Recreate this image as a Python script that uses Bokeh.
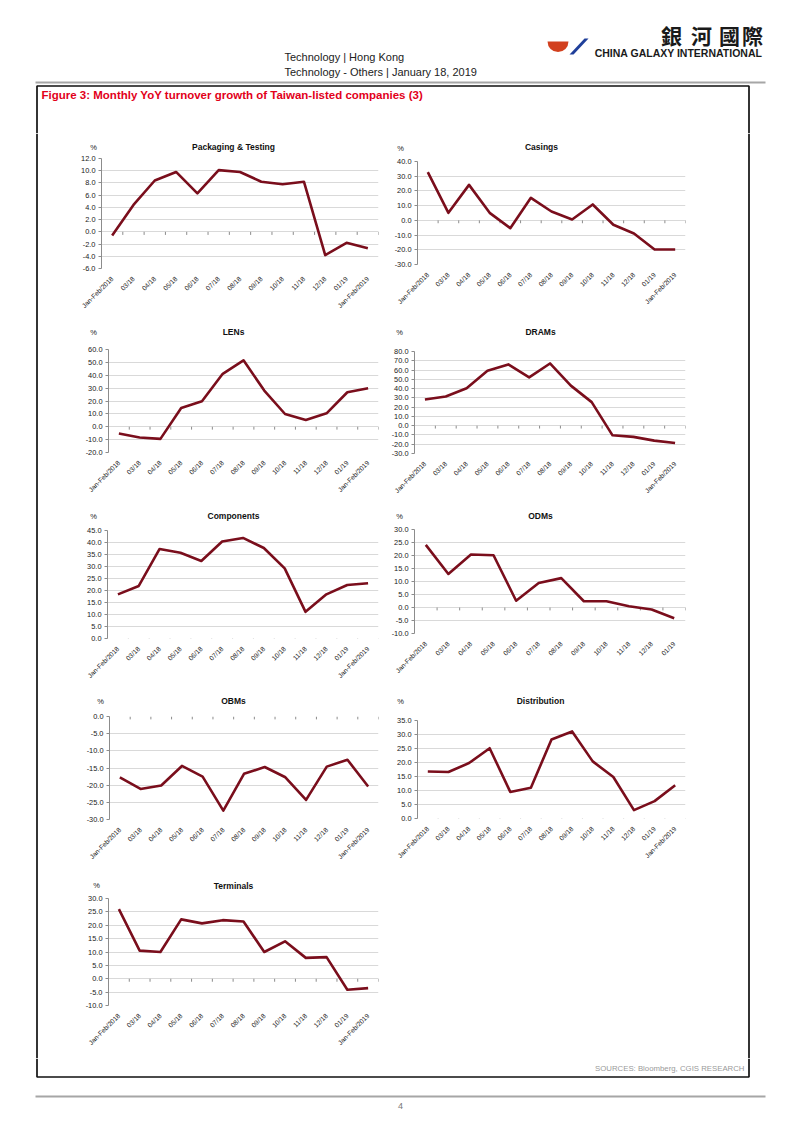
import math
from bokeh.plotting import figure
from bokeh.models import Range1d, FactorRange, FixedTicker, NumeralTickFormatter
from bokeh.layouts import column, row
from bokeh.embed import file_html
from bokeh.resources import INLINE
from bokeh.core.properties import value

# ---------------- data ----------------
months = ["Jan-Feb/2018", "03/18", "04/18", "05/18", "06/18", "07/18", "08/18",
          "09/18", "10/18", "11/18", "12/18", "01/19", "Jan-Feb/2019"]
months_odm = ["Jan-Feb/2018", "03/18", "04/18", "05/18", "06/18", "07/18", "08/18",
              "09/18", "10/18", "11/18", "12/18", "01/19"]

packaging_testing = [-0.6, 4.4, 8.4, 9.8, 6.3, 10.1, 9.8, 8.2, 7.8, 8.2, -3.8, -1.8, -2.7]
casings = [32.8, 5.1, 24.1, 5.1, -5.3, 15.3, 6.0, 0.6, 10.8, -3.0, -8.9, -19.8, -19.8]
lens = [-5.2, -8.3, -9.4, 14.6, 19.8, 41.1, 51.6, 28.1, 9.9, 5.2, 10.4, 26.8, 29.9]
drams = [28.2, 31.4, 40.4, 59.3, 66.1, 52.1, 67.1, 43.2, 25.4, -10.4, -12.1, -16.1, -18.6]
components = [18.4, 21.9, 37.3, 35.7, 32.3, 40.4, 41.9, 37.7, 29.2, 11.1, 18.4, 22.3, 23.0]
odms = [24.1, 12.9, 20.4, 20.1, 2.6, 9.4, 11.3, 2.4, 2.4, 0.5, -0.8, -4.1]
obms = [-17.7, -21.1, -20.1, -14.4, -17.5, -27.4, -16.7, -14.7, -17.7, -24.3, -14.6, -12.6, -20.4]
distribution = [16.8, 16.6, 19.8, 25.1, 9.5, 11.0, 28.2, 31.1, 20.4, 14.8, 3.0, 6.2, 11.9]
terminals = [26.0, 10.5, 10.0, 22.2, 20.7, 21.9, 21.4, 10.0, 14.0, 7.8, 8.1, -4.1, -3.5]

ticks_packaging = [-6, -4, -2, 0, 2, 4, 6, 8, 10, 12]
ticks_casings = [-30, -20, -10, 0, 10, 20, 30, 40]
ticks_lens = [-20, -10, 0, 10, 20, 30, 40, 50, 60]
ticks_drams = [-30, -20, -10, 0, 10, 20, 30, 40, 50, 60, 70, 80]
ticks_components = [0, 5, 10, 15, 20, 25, 30, 35, 40, 45]
ticks_odms = [-10, -5, 0, 5, 10, 15, 20, 25, 30]
ticks_obms = [-30, -25, -20, -15, -10, -5, 0]
ticks_distribution = [0, 5, 10, 15, 20, 25, 30, 35]
ticks_terminals = [-10, -5, 0, 5, 10, 15, 20, 25, 30]

header_line1 = "Technology | Hong Kong"
header_line2 = "Technology - Others | January 18, 2019"
figure_title = "Figure 3: Monthly YoY turnover growth of Taiwan-listed companies (3)"
source_text = "SOURCES: Bloomberg, CGIS RESEARCH"
page_number = "4"
logo_chars = ["銀", "河", "國", "際"]
logo_text = "CHINA GALAXY INTERNATIONAL"
unit_label = "%"

# ---------------- style ----------------
FONT = "Liberation Sans"
LINE_COLOR = "#7a0e1c"
LABEL_COLOR = "#222222"
PAGE_W = 802
HEADER_H = 133
ROW_H = 185
FOOTER_H = 75
LEFT_W = 38
LCHART_W = 350
RCHART_W = 358
CHARTS_W = LCHART_W + RCHART_W
RIGHT_W = PAGE_W - LEFT_W - CHARTS_W
BOX_COLOR = "#111111"
BOX_W = 1.7


def deco(w, h):
    p = figure(width=w, height=h, x_range=Range1d(0, w), y_range=Range1d(h, 0),
               x_axis_type=None, y_axis_type=None, output_backend="svg",
               toolbar_location=None, min_border=0)
    p.outline_line_color = None
    p.background_fill_color = "white"
    p.border_fill_color = "white"
    return p


def chart_plot(spec, side, strip_h):
    cats, vals, ticks = spec["cats"], spec["vals"], spec["ticks"]
    fl, ft, fb = spec["fl"], spec["ft"], spec["fb"]
    w = LCHART_W if side == "L" else RCHART_W
    mr = 10 if side == "L" else 61
    ymin, ymax = ticks[0], ticks[-1]
    p = figure(width=w, height=ROW_H - strip_h, x_range=FactorRange(factors=cats),
               y_range=Range1d(ymin, ymax), output_backend="svg",
               toolbar_location=None, min_border_left=fl, min_border_right=mr,
               min_border_top=ft - strip_h, min_border_bottom=fb)
    p.outline_line_color = None
    p.background_fill_color = "white"
    p.border_fill_color = "white"
    p.xgrid.grid_line_color = None
    p.ygrid.grid_line_color = "#d9d9d9"
    p.ygrid.grid_line_width = 1
    p.yaxis.ticker = FixedTicker(ticks=ticks)
    p.yaxis.formatter = NumeralTickFormatter(format="0.0")
    p.yaxis.axis_line_color = "#8c8c8c"
    p.yaxis.major_tick_line_color = "#8c8c8c"
    p.yaxis.major_tick_out = 3
    p.yaxis.major_tick_in = 0
    p.yaxis.minor_tick_line_color = None
    p.yaxis.major_label_standoff = 3
    p.yaxis.major_label_text_font_size = "7.4px"
    p.xaxis.axis_line_color = None
    p.xaxis.major_tick_line_color = None
    p.xaxis.minor_tick_line_color = None
    p.xaxis.major_label_orientation = math.pi / 4
    p.xaxis.major_label_standoff = 3
    p.xaxis.major_label_text_font_size = "6.7px"
    for ax in (p.xaxis, p.yaxis):
        ax.major_label_text_color = LABEL_COLOR
        ax.major_label_text_font = FONT
    n = len(cats)
    tl = (ymax - ymin) * 0.028
    bounds = list(range(n + 1))
    p.segment(x0=bounds, y0=[0] * (n + 1), x1=bounds, y1=[-tl] * (n + 1),
              line_color="#8c8c8c", line_width=1)
    p.line(x=cats, y=vals, line_color=LINE_COLOR, line_width=2.6, line_join="round")
    return p


def chart_row(left, right):
    tops = [left["ft"]] + ([right["ft"]] if right else [])
    strip_h = min(tops) - 3
    strip = deco(CHARTS_W, strip_h)
    specs = [(left, 0)] + ([(right, LCHART_W)] if right else [])
    for spec, x0 in specs:
        strip.text(x=[x0 + spec["tx"]], y=[spec["ty"]], text=[spec["title"]],
                   text_font=value(FONT), text_font_style="bold", text_font_size="8.5px",
                   text_color="#111111", text_align="center", text_baseline="middle")
        strip.text(x=[x0 + spec["px"]], y=[spec["py"]], text=[unit_label],
                   text_font=value(FONT), text_font_size="7.5px", text_color="#222222",
                   text_align="center", text_baseline="middle")
    lp = column(chart_plot(left, "L", strip_h))
    if right:
        rp = column(chart_plot(right, "R", strip_h))
    else:
        rp = deco(RCHART_W, ROW_H - strip_h)
    return column(strip, row(lp, rp))


# ---------------- header ----------------
hdr = deco(PAGE_W, HEADER_H)
hdr.text(x=[284], y=[56], text=[header_line1], text_font=value(FONT),
         text_font_size="11px", text_color="#222222", text_baseline="middle")
hdr.text(x=[284], y=[71], text=[header_line2], text_font=value(FONT),
         text_font_size="11px", text_color="#222222", text_baseline="middle")
hdr.segment(x0=[35], y0=[82], x1=[765], y1=[82], line_color="#a6a6a6", line_width=2)
# logo
hdr.wedge(x=[557.5], y=[41], radius=10.5, start_angle=math.pi, end_angle=2 * math.pi,
          fill_color="#d2401e", line_color=None)
hdr.patch(x=[569, 584, 588, 573], y=[54, 38, 38, 54], fill_color="#1f3f9a", line_color=None)
hdr.text(x=[671, 701, 729, 752], y=[34, 34, 34, 34], text=logo_chars,
         text_font=value("Noto Sans CJK TC"), text_font_style="bold",
         text_font_size="21px", text_color="#1a1a1a", text_align="center",
         text_baseline="middle")
hdr.text(x=[762], y=[52], text=[logo_text], text_font=value(FONT),
         text_font_style="bold", text_font_size="10.5px", text_color="#1a1a1a",
         text_align="right", text_baseline="middle")
# box top
hdr.line(x=[36.5, 36.5, 748.5, 748.5], y=[HEADER_H, 85.5, 85.5, HEADER_H],
         line_color=BOX_COLOR, line_width=BOX_W)
hdr.text(x=[41], y=[94.5], text=[figure_title], text_font=value(FONT),
         text_font_style="bold", text_font_size="11.5px", text_color="#e2001a",
         text_baseline="middle")

# ---------------- charts ----------------
def spec(title, cats, vals, ticks, fl, ft, fb, tx, ty, px, py):
    return dict(title=title, cats=cats, vals=vals, ticks=ticks, fl=fl, ft=ft, fb=fb,
                tx=tx, ty=ty, px=px, py=py)


s1 = spec("Packaging & Testing", months, packaging_testing, ticks_packaging, 63, 25, 50, 195, 13, 55, 14)
s2 = spec("Casings", months, casings, ticks_casings, 29, 28, 54, 153, 13, 12, 15)
s3 = spec("LENs", months, lens, ticks_lens, 70, 31, 51, 195, 13, 55, 14)
s4 = spec("DRAMs", months, drams, ticks_drams, 24, 33, 50, 152, 13, 11, 14)
s5 = spec("Components", months, components, ticks_components, 69, 27, 50, 195, 12, 55, 13)
s6 = spec("ODMs", months_odm, odms, ticks_odms, 25, 26, 55, 152, 12, 11, 13)
s7 = spec("OBMs", months, obms, ticks_obms, 71, 28, 54, 195, 12, 62, 13)
s8 = spec("Distribution", months, distribution, ticks_distribution, 29, 32, 55, 152, 12, 12, 13)
s9 = spec("Terminals", months, terminals, ticks_terminals, 70, 25, 53, 195, 12, 58, 12)

charts_col = column(chart_row(s1, s2), chart_row(s3, s4), chart_row(s5, s6),
                    chart_row(s7, s8), chart_row(s9, None))

lb = deco(LEFT_W, ROW_H * 5)
lb.segment(x0=[36.5], y0=[0], x1=[36.5], y1=[ROW_H * 5], line_color=BOX_COLOR, line_width=BOX_W)
rb = deco(RIGHT_W, ROW_H * 5)
rb.segment(x0=[2.5], y0=[0], x1=[2.5], y1=[ROW_H * 5], line_color=BOX_COLOR, line_width=BOX_W)

# ---------------- footer ----------------
ftr = deco(PAGE_W, FOOTER_H)
ftr.line(x=[36.5, 36.5, 748.5, 748.5], y=[0, 18.5, 18.5, 0], line_color=BOX_COLOR,
         line_width=BOX_W)
ftr.text(x=[744], y=[10], text=[source_text], text_font=value(FONT), text_font_size="7.8px",
         text_color="#9a9a9a", text_align="right", text_baseline="middle")
ftr.segment(x0=[35], y0=[38], x1=[765], y1=[38], line_color="#a6a6a6", line_width=2)
ftr.text(x=[400], y=[47], text=[page_number], text_font=value(FONT), text_font_size="9px",
         text_color="#777777", text_align="center", text_baseline="middle")

page = column(hdr, row(lb, charts_col, rb), ftr)

open("out.html", "w").write(file_html(page, INLINE))
